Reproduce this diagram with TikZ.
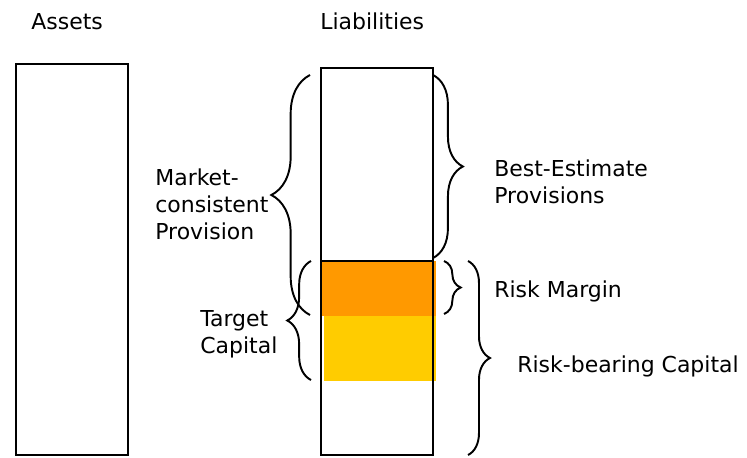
\documentclass[tikz,border=0pt]{standalone}
\usepackage{fontspec}
\setmainfont{DejaVu Sans}
\usetikzlibrary{decorations.pathreplacing}
\definecolor{marginorange}{HTML}{FF9900}
\definecolor{capitalyellow}{HTML}{FFCC00}
\tikzset{
  sheet/.style={draw, line width=1pt},
  curly/.style={decorate, decoration={brace, amplitude=#1}, line width=1.1pt},
  caption/.style={inner sep=0pt, anchor=base west, align=left,
    font=\fontsize{12.5}{15.1}\selectfont}
}

\begin{document}
\begin{tikzpicture}[x=0.02cm, y=-0.02cm]
    \useasboundingbox (0,0) rectangle (747,457);
    % headings
    \node[caption] (assets) at (31,29) {Assets};
    \node[caption] (liab) at (320,29) {Liabilities};
    % coloured layers
    \fill[marginorange] (322,261) rectangle (436,316);
    \fill[capitalyellow] (324,316) rectangle (436,381);
    % balance sheet columns
    \draw[sheet] (16,64) rectangle (128,455);
    \draw[sheet] (321,68) rectangle (433,455);
    \draw[sheet] (321,261) -- (433,261);
    % brace end points
    \coordinate (mcTop) at (310,75);
    \coordinate (mcBot) at (310,315);
    \coordinate (beTop) at (433,75);
    \coordinate (beBot) at (433,258);
    \coordinate (tcTop) at (311,261);
    \coordinate (tcBot) at (311,380);
    \coordinate (rmTop) at (444,261);
    \coordinate (rmBot) at (444,314);
    \coordinate (rbTop) at (468,261);
    \coordinate (rbBot) at (468,455);
    \draw[curly=22pt] (mcBot) -- (mcTop);
    \draw[curly=17pt] (beTop) -- (beBot);
    \draw[curly=13.5pt] (tcBot) -- (tcTop);
    \draw[curly=9.5pt] (rmTop) -- (rmBot);
    \draw[curly=12.5pt] (rbTop) -- (rbBot);
    % labels (base = last line)
    \node[caption] (mcText) at (155,239) {Market-\\consistent\\Provision};
    \node[caption] (beText) at (494,203) {Best-Estimate\\Provisions};
    \node[caption] (tcText) at (200,353) {Target\\Capital};
    \node[caption] (rmText) at (494,297) {Risk Margin};
    \node[caption] (rbText) at (517,372) {Risk-bearing Capital};
\end{tikzpicture}
\end{document}
